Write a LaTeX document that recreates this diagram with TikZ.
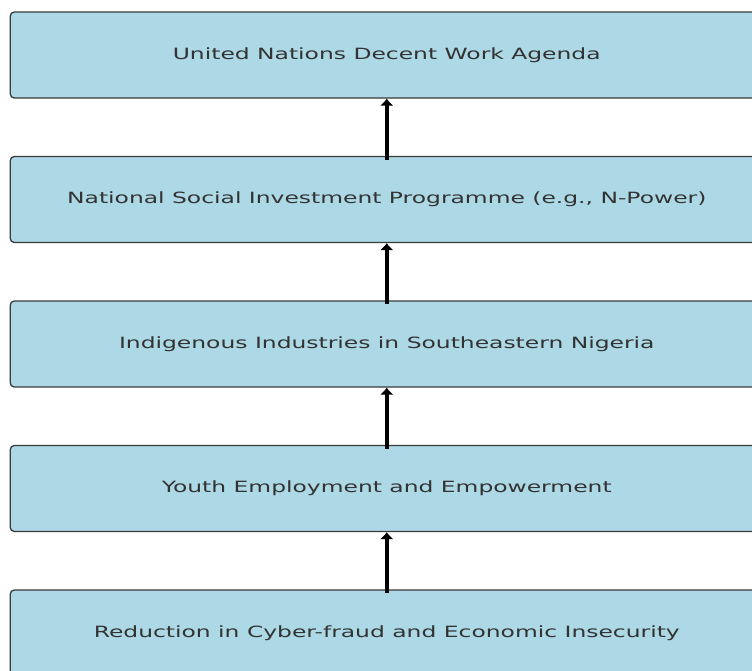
\documentclass[tikz,border=0pt]{standalone}
\usepackage{fontspec}
\setmainfont{DejaVu Sans}
\usetikzlibrary{positioning,arrows.meta}
\definecolor{boxfill}{HTML}{ADD8E6}
\definecolor{boxline}{HTML}{3A3A3A}
\definecolor{boxtext}{HTML}{333333}
\tikzset{>={Latex[length=7pt,width=14pt]}}
\tikzset{ stage/.style={draw=boxline,line width=1.3pt,fill=boxfill,rounded corners=4pt,minimum width=753pt,minimum height=86pt,inner sep=0pt,text=boxtext,font=\fontsize{15.5}{18}\selectfont} }
\tikzset{ link/.style={->,line width=4.2pt,black,shorten <=-4pt} }
\newcommand{\wide}[1]{\scalebox{1.51}[1]{#1}}

\begin{document}
\begin{tikzpicture}[x=1pt,y=-1pt]
  \clip (0,0) rectangle (752,670);
  \useasboundingbox (0,0) rectangle (752,670);
  % boxes
  \node[stage] (agenda) at (386.75,55) {\wide{United Nations Decent Work Agenda}};
  \node[stage,below=57.2pt of agenda] (nsip) {\wide{National Social Investment Programme (e.g., N-Power)}};
  \node[stage,below=57.2pt of nsip] (industries) {\wide{Indigenous Industries in Southeastern Nigeria}};
  \node[stage,below=57.2pt of industries] (youth) {\wide{Youth Employment and Empowerment}};
  \node[stage,below=57.2pt of youth] (reduction) {\wide{Reduction in Cyber-fraud and Economic Insecurity}};
  % arrows
  \draw[link] (nsip) -- (agenda);
  \draw[link] (industries) -- (nsip);
  \draw[link] (youth) -- (industries);
  \draw[link] (reduction) -- (youth);
\end{tikzpicture}
\end{document}
